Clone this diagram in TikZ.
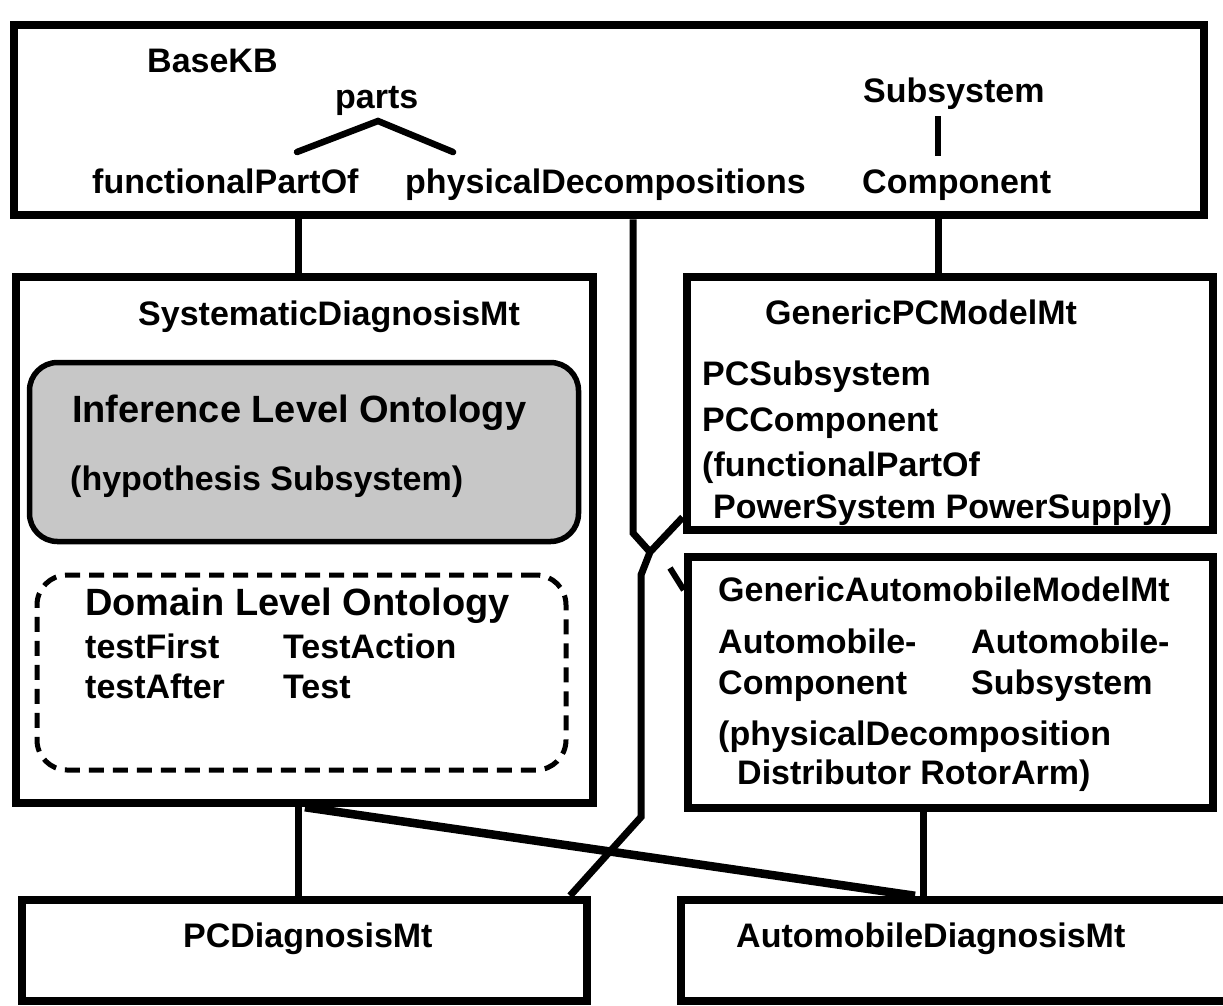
\documentclass[tikz,border=0pt]{standalone}
\usepackage{fontspec}
\setmainfont{Liberation Sans}
\usetikzlibrary{calc}
\begin{document}
\begin{tikzpicture}[x=1pt,y=-1pt,
  box/.style={draw, line width=8.5pt, rectangle, inner sep=0pt},
  lbl/.style={font=\bfseries\fontsize{34}{40}\selectfont, inner sep=0pt, anchor=base west},
  big/.style={font=\bfseries\fontsize{38}{44}\selectfont, inner sep=0pt, anchor=base west},
  conn/.style={line width=7pt},
  thin/.style={line width=6.5pt, line cap=round},
]
\clip (0,0) rectangle (1223,1005);
\fill[white] (0,0) rectangle (1223,1005);

% ---------- BaseKB ----------
\node[box, minimum width=1190pt, minimum height=190pt] (top) at (609,120) {};
\node[lbl] (basekb) at (147,72) {BaseKB};
\node[lbl] (parts) at (335,108) {parts};
\node[lbl] (fpo) at (92,193) {functionalPartOf};
\node[lbl] (pdc) at (405,193) {physicalDecompositions};
\node[lbl] (subsys) at (863,102) {Subsystem};
\node[lbl] (comp) at (862,193) {Component};
\coordinate (cl) at (297,152);
\coordinate (ct) at (378,121);
\coordinate (cr) at (453,152);
\draw[thin] (cl) -- (ct) -- (cr);
\coordinate (bt) at (938,116);
\coordinate (bb) at (938,156);
\draw[thin, line cap=butt] (bt) -- (bb);

% ---------- SystematicDiagnosisMt ----------
\node[box, minimum width=577pt, minimum height=526pt] (sys) at (304.5,540) {};
\node[lbl] (systitle) at (138,325) {SystematicDiagnosisMt};
\node[draw, line width=5.5pt, fill=black!22, rounded corners=28pt,
      minimum width=549pt, minimum height=179pt, inner sep=0pt] (inf) at (304,452) {};
\node[big] (inftitle) at (72,422) {Inference Level Ontology};
\node[lbl] (hyp) at (70,490) {(hypothesis Subsystem)};
\node[draw, line width=5pt, dash pattern=on 15pt off 9pt, rounded corners=30pt,
      minimum width=529pt, minimum height=195pt, inner sep=0pt] (dom) at (301.5,672.5) {};
\node[big] (domtitle) at (85,615) {Domain Level Ontology};
\node[lbl] (tf) at (85,658) {testFirst};
\node[lbl] (tac) at (283,658) {TestAction};
\node[lbl] (taf) at (85,698) {testAfter};
\node[lbl] (tt) at (283,698) {Test};

% ---------- GenericPCModelMt ----------
\node[box, minimum width=526pt, minimum height=253pt] (gpc) at (950,403.5) {};
\node[lbl] (gpct) at (765,324) {GenericPCModelMt};
\node[lbl] (pcs) at (702,385) {PCSubsystem};
\node[lbl] (pcc) at (702,431) {PCComponent};
\node[lbl] (gpf) at (702,476) {(functionalPartOf};
\node[lbl] (gpp) at (713,518) {PowerSystem PowerSupply)};

% ---------- GenericAutomobileModelMt ----------
\node[box, minimum width=525pt, minimum height=251pt] (gam) at (950.5,682.5) {};
\node[lbl] (gamt) at (718,601) {GenericAutomobileModelMt};
\node[lbl] (am1) at (718,653) {Automobile-};
\node[lbl] (am2) at (971,653) {Automobile-};
\node[lbl] (amc) at (718,694) {Component};
\node[lbl] (ams) at (971,694) {Subsystem};
\node[lbl] (amp) at (718,745) {(physicalDecomposition};
\node[lbl] (amd) at (737,784) {Distributor RotorArm)};

% ---------- bottom boxes ----------
\node[box, minimum width=565pt, minimum height=101pt] (pcd) at (304.5,950.5) {};
\node[lbl] (pcdt) at (183,947) {PCDiagnosisMt};
\node[box, minimum width=560pt, minimum height=101pt] (ad) at (961,950.5) {};
\node[lbl] (adt) at (736,947) {AutomobileDiagnosisMt};

% ---------- connectors ----------
\coordinate (x1) at (298,0);
\coordinate (x2) at (633,0);
\coordinate (x3) at (938,0);
\coordinate (xa) at (305,0);
\coordinate (xb) at (915,0);
\coordinate (xc) at (923,0);
\coordinate (xd) at (570,0);
\coordinate (pdbend) at (633,533);
\coordinate (junc) at (650,552);
\coordinate (pcb1) at (641,575);
\coordinate (pcb2) at (641,817);
\coordinate (arrs) at (670,568);
\coordinate (ya) at (0,590);

\draw[conn] (top.south -| x1) -- (sys.north -| x1);
\draw[conn] (top.south -| x3) -- (gpc.north -| x3);
\draw[conn] (top.south -| x2) -- (pdbend) -- (junc);
\draw[conn] ($(gpc.south west)+(0,-17)$) -- (junc) -- (pcb1) -- (pcb2) -- (pcd.north -| xd);
\draw[line width=6pt] (arrs) -- (gam.west |- ya);
\draw[conn] (sys.south -| x1) -- (pcd.north -| x1);
\draw[line width=8.5pt] (sys.south -| xa) -- (ad.north -| xb);
\draw[conn] (gam.south -| xc) -- (ad.north -| xc);
\end{tikzpicture}
\end{document}
